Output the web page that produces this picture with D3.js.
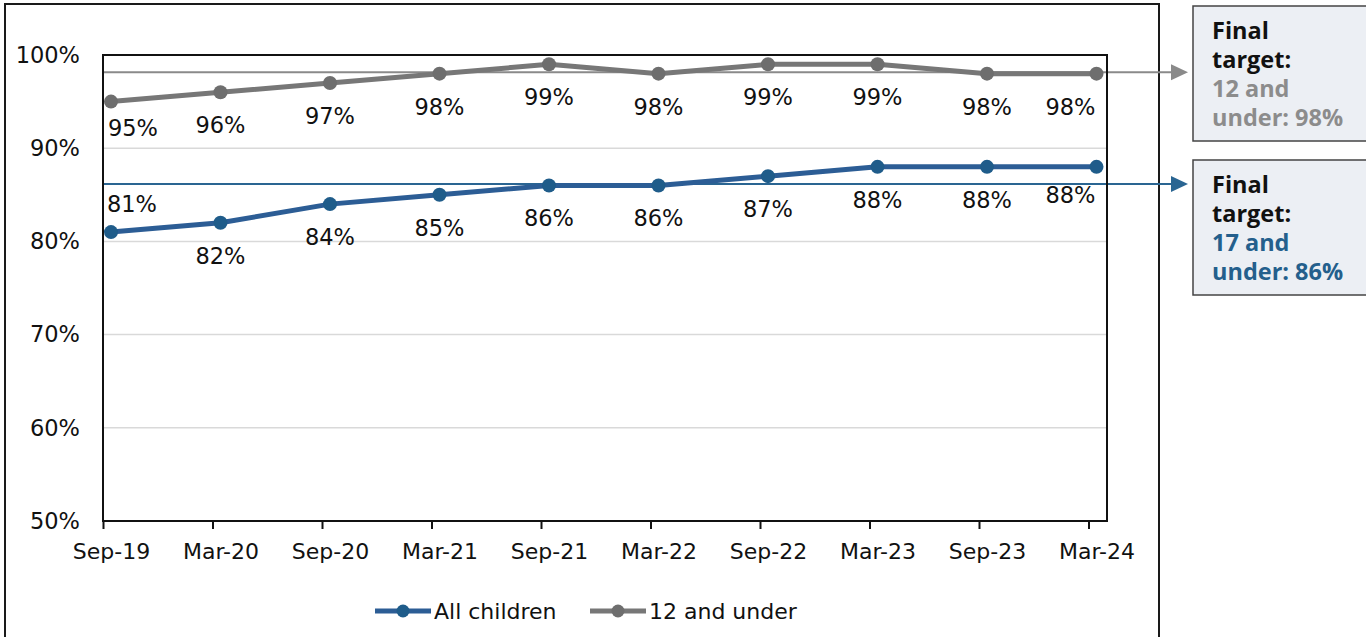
<!DOCTYPE html>
<html>
<head>
<meta charset="utf-8">
<script src="https://cdn.jsdelivr.net/npm/d3@7"></script>
<style>
  html, body { margin: 0; padding: 0; background: #ffffff; }
  svg { display: block; }
  text { font-family: "DejaVu Sans", sans-serif; }
</style>
</head>
<body>
<svg id="chart" width="1366" height="637"></svg>
<script>
// Reporting periods and shares of children (%)
const periods = ["Sep-19", "Mar-20", "Sep-20", "Mar-21", "Sep-21", "Mar-22", "Sep-22", "Mar-23", "Sep-23", "Mar-24"];
const allChildren = [81, 82, 84, 85, 86, 86, 87, 88, 88, 88];
const under12 = [95, 96, 97, 98, 99, 98, 99, 99, 98, 98];
const yTicks = [50, 60, 70, 80, 90, 100];
const seriesNames = ["All children", "12 and under"];
const target12 = 98;
const target17 = 86;
const targetBox12 = ["Final", "target:", "12 and", "under: " + target12 + "%"];
const targetBox17 = ["Final", "target:", "17 and", "under: " + target17 + "%"];

// Layout
const plot = { left: 103, right: 1107, top: 55, bottom: 521 };
const blue = "#2C5D95", blueDot = "#1F5C8A", blueTarget = "#2A6592", blueText = "#245F8C";
const grey = "#777777", greyDot = "#6E6E6E", greyTarget = "#8A8A8A", greyText = "#8C8C8C";

const svg = d3.select("#chart");

const x = d3.scalePoint().domain(periods).range([111, 1096.5]);
const tickOffset = -8;
const y = d3.scaleLinear().domain([50, 100]).range([plot.bottom, plot.top]);

// Outer frame of the chart object
svg.append("rect")
  .attr("x", 5).attr("y", 4).attr("width", 1154).attr("height", 700)
  .attr("fill", "none").attr("stroke", "#1a1a1a").attr("stroke-width", 2);

// Horizontal gridlines
svg.append("g").selectAll("line")
  .data(yTicks.filter(d => d > 50 && d < 100))
  .join("line")
  .attr("x1", plot.left).attr("x2", plot.right)
  .attr("y1", d => y(d)).attr("y2", d => y(d))
  .attr("stroke", "#d9d9d9").attr("stroke-width", 1.5);

// Target lines with arrows pointing to the note boxes
function targetLine(value, color) {
  const yy = y(value) - 1.5;
  svg.append("line")
    .attr("x1", plot.left).attr("x2", 1174)
    .attr("y1", yy).attr("y2", yy)
    .attr("stroke", color).attr("stroke-width", 2);
  svg.append("path")
    .attr("d", `M1171,${yy - 8}L1188,${yy}L1171,${yy + 8}Z`)
    .attr("fill", color);
}
targetLine(target12, greyTarget);
targetLine(target17, blueTarget);

// Plot area border
svg.append("rect")
  .attr("x", plot.left).attr("y", plot.top)
  .attr("width", plot.right - plot.left).attr("height", plot.bottom - plot.top)
  .attr("fill", "none").attr("stroke", "#111").attr("stroke-width", 2);

// Y axis labels
const yAxis = svg.append("g")
  .attr("transform", `translate(${plot.left},0)`)
  .call(d3.axisLeft(y).tickValues(yTicks).tickSize(0).tickPadding(23).tickFormat(d => d + "%"));
yAxis.select(".domain").remove();
yAxis.selectAll("text")
  .attr("font-size", 22.5).attr("fill", "#111");

// X axis: ticks sit slightly left of each data point, labels centred on the points
const xTicks = d3.scalePoint().domain(periods).range([111 + tickOffset, 1096.5 + tickOffset]);
const xAxis = svg.append("g")
  .attr("transform", `translate(0,${plot.bottom})`)
  .call(d3.axisBottom(xTicks).tickSize(8));
xAxis.select(".domain").remove();
xAxis.selectAll(".tick line").attr("stroke", "#111").attr("stroke-width", 2);
xAxis.selectAll("text")
  .attr("x", -tickOffset).attr("y", 38).attr("dy", 0)
  .attr("font-size", 22).attr("fill", "#111");

// Series lines and markers
const line = d3.line().x((d, i) => x(periods[i])).y(d => y(d));
function drawSeries(values, color, dotColor) {
  svg.append("path")
    .datum(values)
    .attr("d", line)
    .attr("fill", "none").attr("stroke", color).attr("stroke-width", 5)
    .attr("stroke-linejoin", "round");
  svg.append("g").selectAll("circle")
    .data(values)
    .join("circle")
    .attr("cx", (d, i) => x(periods[i])).attr("cy", d => y(d))
    .attr("r", 7).attr("fill", dotColor);
}
drawSeries(under12, grey, greyDot);
drawSeries(allChildren, blue, blueDot);

// Data labels (default: below the marker; ends nudged inwards)
function drawLabels(values, nudges) {
  svg.append("g").selectAll("text")
    .data(values)
    .join("text")
    .attr("x", (d, i) => x(periods[i]) + ((nudges[i] || {}).dx || 0))
    .attr("y", (d, i) => y(d) + ((nudges[i] || {}).dy ?? 41))
    .attr("text-anchor", "middle")
    .attr("font-size", 22.5).attr("fill", "#111")
    .text(d => d + "%");
}
drawLabels(under12, { 0: { dx: 22, dy: 34 }, 9: { dx: -26, dy: 41 } });
drawLabels(allChildren, { 0: { dx: 21, dy: -20 }, 9: { dx: -26, dy: 36 } });

// Legend
const legend = svg.append("g");
[[seriesNames[0], blue, blueDot, 375], [seriesNames[1], grey, greyDot, 590]].forEach(([name, c, dc, lx]) => {
  legend.append("line")
    .attr("x1", lx).attr("x2", lx + 56).attr("y1", 611).attr("y2", 611)
    .attr("stroke", c).attr("stroke-width", 5);
  legend.append("circle").attr("cx", lx + 28).attr("cy", 611).attr("r", 6.5).attr("fill", dc);
  legend.append("text")
    .attr("x", lx + 59).attr("y", 619)
    .attr("font-size", 22).attr("fill", "#111")
    .text(name);
});

// Target note boxes
function noteBox(top, lines, color) {
  svg.append("rect")
    .attr("x", 1193).attr("y", top).attr("width", 190).attr("height", 135)
    .attr("fill", "#ECEFF4").attr("stroke", "#444").attr("stroke-width", 1.5);
  svg.append("g").selectAll("text")
    .data(lines)
    .join("text")
    .attr("x", 1212).attr("y", (d, i) => top + 33 + i * 29)
    .style("font-family", "'Open Sans', sans-serif")
    .style("font-weight", "bold")
    .style("font-size", "23.5px")
    .attr("fill", (d, i) => i < 2 ? "#111" : color)
    .text(d => d);
}
noteBox(6, targetBox12, greyText);
noteBox(160, targetBox17, blueText);
</script>
</body>
</html>
